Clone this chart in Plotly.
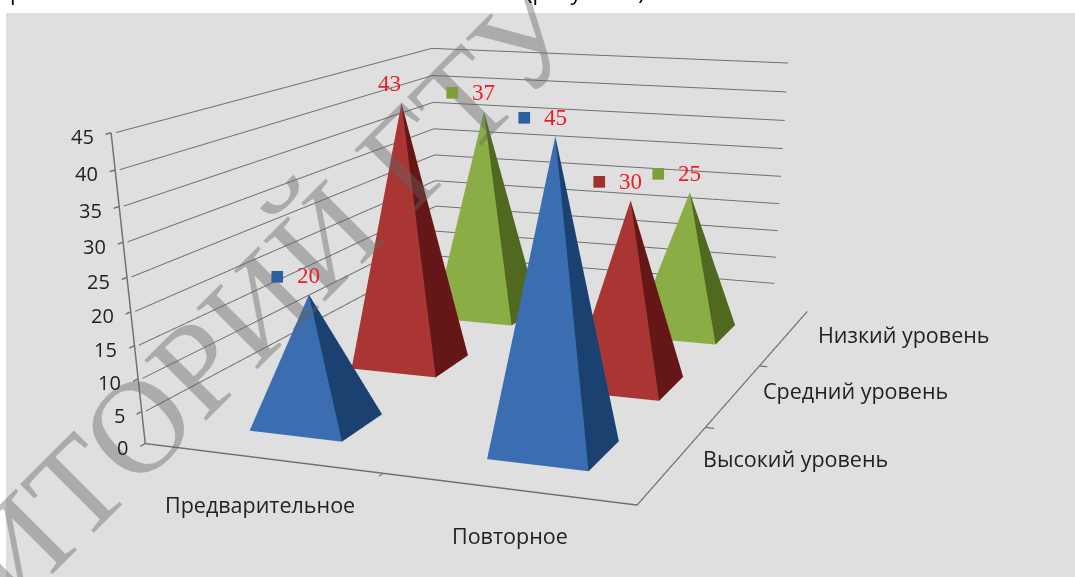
import plotly.graph_objects as go

# Survey results: share of students per level, for each testing round
categories = ["Предварительное", "Повторное"]
levels = ["Высокий уровень", "Средний уровень", "Низкий уровень"]
high = [20, 45]
medium = [43, 30]
low = [37, 25]
z_ticks = [0, 5, 10, 15, 20, 25, 30, 35, 40, 45]

series = [high, medium, low]
front_colors = ["#3a6eb0", "#aa3634", "#8aad46"]
side_colors = ["#1a4170", "#651616", "#50681f"]
key_colors = ["#2c5f9e", "#a02f2e", "#7c9f36"]

W, H = 1075, 1400  # tall canvas: keeps the perspective of the 3D scene gentle
HALF_X, HALF_Y = 0.2, 0.2
X_MIN, X_MAX = 0.5, 2.47
Y_MIN, Y_MAX = 0.5, 3.6
WALL_END = 2.3  # the back wall stops short of the floor's right edge
INSET = 0.012   # keeps gridlines just inside the scene's clipping box
GRID = "#707070"


def py(pixel_y):
    return 1 - pixel_y / H


def pyramid(cx, cy, height, front, side):
    xs = [cx - HALF_X, cx + HALF_X, cx + HALF_X, cx - HALF_X, cx]
    ys = [cy - HALF_Y, cy - HALF_Y, cy + HALF_Y, cy + HALF_Y, cy]
    zs = [0, 0, 0, 0, height]
    return go.Mesh3d(
        x=xs, y=ys, z=zs,
        i=[0, 1, 2, 3, 0, 0],
        j=[1, 2, 3, 0, 1, 2],
        k=[4, 4, 4, 4, 2, 3],
        facecolor=[front, side, front, front, side, side],
        flatshading=True,
        lighting=dict(ambient=1, diffuse=0, specular=0, roughness=1, fresnel=0),
        hoverinfo="skip",
        showscale=False,
    )


fig = go.Figure()

# Gridlines run along the left wall, then along the back wall
for tick in z_ticks[1:]:
    level = min(tick, z_ticks[-1] - INSET)
    fig.add_trace(go.Scatter3d(
        x=[X_MIN + INSET, X_MIN + INSET, WALL_END],
        y=[Y_MIN + INSET, Y_MAX - INSET, Y_MAX - INSET],
        z=[level, level, level],
        mode="lines", line=dict(color=GRID, width=2), hoverinfo="skip", showlegend=False,
    ))

scene_notes = []
for d, values in enumerate(series):
    for c, value in enumerate(values):
        fig.add_trace(pyramid(c + 1, d + 1, value, front_colors[d], side_colors[d]))
        shift = -12 if value == 43 else 0
        scene_notes.append(dict(x=c + 1, y=d + 1, z=value, text=str(value), showarrow=False,
                                xshift=shift, yshift=19,
                                font=dict(family="Liberation Serif", size=23, color="#ee1c25")))
        if value != 43:
            scene_notes.append(dict(x=c + 1, y=d + 1, z=value, text="■", showarrow=False,
                                    xshift=-31, yshift=19,
                                    font=dict(family="Liberation Serif", size=24, color=key_colors[d])))

label_font = dict(family="Open Sans", size=21.5, color="#222222")
for c, name in enumerate(categories):
    scene_notes.append(dict(x=c + 1, y=Y_MIN, z=0, text=name, showarrow=False,
                            xshift=-1, yshift=-46, font=label_font))
for d, name in enumerate(levels):
    scene_notes.append(dict(x=X_MAX, y=d + 1, z=0, text=name, showarrow=False,
                            xshift=122, yshift=5, font=label_font))
for tick in z_ticks:
    scene_notes.append(dict(x=X_MIN, y=Y_MIN, z=tick, text=str(tick), showarrow=False,
                            xanchor="right", xshift=-15, yshift=-4,
                            font=dict(family="Open Sans", size=20, color="#222222")))

axis_common = dict(showbackground=False, showgrid=False, zeroline=False, showspikes=False,
                   title="", showline=True, linecolor=GRID, linewidth=3,
                   ticks="outside", ticklen=7, tickcolor=GRID, tickwidth=3,
                   showticklabels=False)

fig.update_layout(
    width=W, height=H,
    margin=dict(l=0, r=0, t=0, b=0),
    paper_bgcolor="#dfdfdf",
    showlegend=False,
    shapes=[
        dict(type="rect", xref="paper", yref="paper", x0=0, x1=1, y0=py(13), y1=1,
             fillcolor="white", line_width=0, layer="below"),
        dict(type="rect", xref="paper", yref="paper", x0=0, x1=6 / W, y0=0, y1=1,
             fillcolor="white", line_width=0, layer="below"),
    ],
    scene=dict(
        domain=dict(x=[0, 1], y=[0, 1]),
        aspectmode="manual",
        aspectratio=dict(x=0.710, y=1.033, z=0.412),
        camera=dict(
            eye=dict(x=0.9186, y=-2.441, z=0.541),
            center=dict(x=0.102, y=-0.185, z=-0.684),
            up=dict(x=0, y=0, z=1),
        ),
        xaxis=dict(range=[X_MIN, X_MAX], tickvals=[1.5], **axis_common),
        yaxis=dict(range=[Y_MIN, Y_MAX], tickvals=[1.5, 2.5], **axis_common),
        zaxis=dict(range=[0, 45], tickvals=z_ticks, **axis_common),
        annotations=scene_notes,
    ),
    annotations=[
        dict(xref="paper", yref="paper", x=124 / W, y=py(439), text="РЕПОЗИТОРИЙ ГТУ",
             xanchor="center", yanchor="middle",
             textangle=-45, showarrow=False,
             font=dict(family="Liberation Serif", size=132, color="rgba(100,100,100,0.42)")),
        dict(xref="paper", yref="paper", x=524 / W, y=py(0), yanchor="bottom", xanchor="left",
             yshift=-8, text="(рисунок 2)", showarrow=False,
             font=dict(family="Open Sans", size=22, color="black")),
        dict(xref="paper", yref="paper", x=8 / W, y=py(0), yanchor="bottom", xanchor="left",
             yshift=-8, text="р", showarrow=False,
             font=dict(family="Open Sans", size=22, color="black")),
    ],
)

fig.write_html("out.html", post_script="document.documentElement.style.overflow='hidden';")
